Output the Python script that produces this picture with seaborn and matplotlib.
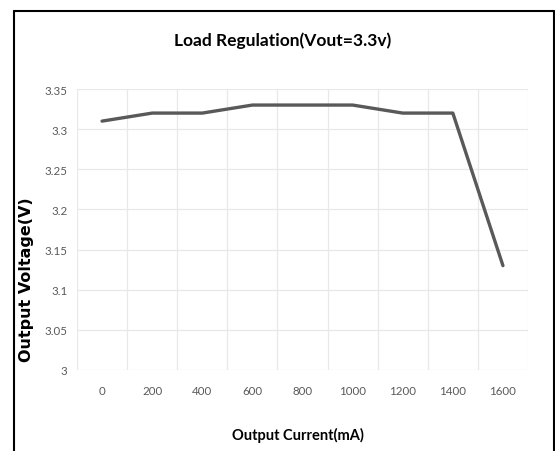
import matplotlib
matplotlib.use("Agg")
import matplotlib.pyplot as plt
from matplotlib.lines import Line2D
from matplotlib.ticker import FixedLocator
import seaborn as sns
import pandas as pd

# data
current_ma = ["0", "200", "400", "600", "800", "1000", "1200", "1400", "1600"]
voltage_v = [3.31, 3.32, 3.32, 3.33, 3.33, 3.33, 3.32, 3.32, 3.13]
y_ticks = [3.0, 3.05, 3.1, 3.15, 3.2, 3.25, 3.3, 3.35]
y_tick_labels = ["3", "3.05", "3.1", "3.15", "3.2", "3.25", "3.3", "3.35"]

sns.set_theme(style="white")
narrow = ["Lato", "DejaVu Sans"]

W, H = 555, 452
fig = plt.figure(figsize=(W / 100, H / 100), dpi=100)
fig.patch.set_facecolor("white")

# plot area in pixels: x 77..528, y 90..371
ax = fig.add_axes([77 / W, 1 - 371 / H, (528 - 77) / W, (371 - 90) / H])

df = pd.DataFrame({"current": current_ma, "voltage": voltage_v})
sns.lineplot(data=df, x="current", y="voltage", color="#595959", linewidth=2.4,
             sort=False, ax=ax)

ax.set_xlim(-0.5, len(current_ma) - 0.5)
ax.set_ylim(3.0, 3.35)
ax.set_yticks(y_ticks)
ax.set_yticklabels(y_tick_labels)

# category axis: gridlines sit between categories
ax.xaxis.set_minor_locator(FixedLocator([i - 0.5 for i in range(len(current_ma) + 1)]))
ax.grid(which="minor", axis="x", color="#e8e8e8", linewidth=0.9)
ax.grid(which="major", axis="y", color="#e8e8e8", linewidth=0.9)
ax.grid(which="major", axis="x", visible=False)
ax.tick_params(which="both", length=0)
ax.tick_params(axis="x", pad=11)
ax.tick_params(axis="y", pad=7)
for lab in ax.get_xticklabels() + ax.get_yticklabels():
    lab.set_family(narrow)
    lab.set_fontsize(8.3)
    lab.set_color("#595959")
for s in ax.spines.values():
    s.set_visible(False)
ax.set_xlabel("")
ax.set_ylabel("")

fig.text(283 / W, 1 - 41 / H, "Load Regulation(Vout=3.3v)", ha="center", va="center",
         fontsize=12.5, fontweight="bold", family=narrow, color="black")
fig.text(298 / W, 1 - 435 / H, "Output Current(mA)", ha="center", va="center",
         fontsize=10.5, fontweight="bold", family=narrow, color="black")
fig.text(27 / W, 1 - 280 / H, "Output Voltage(V)", ha="center", va="center",
         rotation=90, fontsize=11.5, fontweight="bold", family="DejaVu Sans", color="black")

# outer frame (left, top, right; bottom is cut off)
fx0, fx1, fy0 = 13.5 / W, 553.5 / W, 1 - 11.5 / H
for xs, ys in [([fx0, fx0], [fy0, -0.1]), ([fx0, fx1], [fy0, fy0]), ([fx1, fx1], [fy0, -0.1])]:
    fig.add_artist(Line2D(xs, ys, transform=fig.transFigure, color="black", linewidth=1.5))

fig.savefig("out.png", dpi=100)
